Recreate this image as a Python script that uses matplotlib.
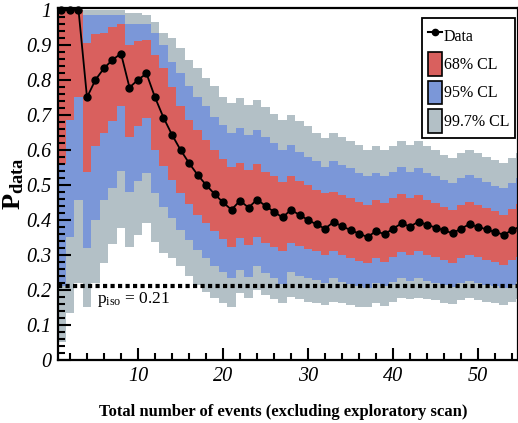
import numpy as np
import matplotlib
matplotlib.use("Agg")
import matplotlib.pyplot as plt
from matplotlib.lines import Line2D
from matplotlib.patches import Patch
from matplotlib.ticker import MultipleLocator, FuncFormatter

plt.rcParams['font.family'] = ['Liberation Serif', 'DejaVu Serif']
plt.rcParams['mathtext.fontset'] = 'custom'
plt.rcParams['mathtext.rm'] = 'Liberation Serif'
plt.rcParams['mathtext.it'] = 'Liberation Serif:italic'
plt.rcParams['mathtext.bf'] = 'Liberation Serif:bold'

# number of events
events = np.arange(1, 56)

# observed fraction
p_data = [1.0, 1.0, 1.0, 0.75, 0.8, 0.833, 0.857, 0.875, 0.778, 0.8,
          0.818, 0.75, 0.692, 0.643, 0.6, 0.5625, 0.529, 0.5, 0.474, 0.45,
          0.429, 0.455, 0.435, 0.458, 0.44, 0.423, 0.407, 0.429, 0.414, 0.4,
          0.387, 0.375, 0.394, 0.382, 0.371, 0.361, 0.351, 0.368, 0.359, 0.375,
          0.39, 0.381, 0.395, 0.386, 0.378, 0.37, 0.362, 0.375, 0.388, 0.38,
          0.373, 0.365, 0.358, 0.37, 0.382]

# 68% band
red_hi = [1.0, 1.0, 1.0, 0.905, 0.93, 0.935, 0.95, 0.96, 0.90, 0.91,
          0.915, 0.87, 0.835, 0.78, 0.726, 0.686, 0.657, 0.629, 0.60, 0.574,
          0.552, 0.562, 0.543, 0.56, 0.538, 0.524, 0.507, 0.524, 0.51, 0.50,
          0.486, 0.476, 0.481, 0.471, 0.462, 0.452, 0.443, 0.457, 0.448, 0.462,
          0.474, 0.462, 0.471, 0.457, 0.448, 0.438, 0.429, 0.443, 0.452, 0.443,
          0.433, 0.424, 0.414, 0.431, 0.446]
red_lo = [0.56, 0.686, 0.75, 0.537, 0.61, 0.648, 0.681, 0.725, 0.638, 0.667,
          0.69, 0.60, 0.555, 0.514, 0.476, 0.446, 0.414, 0.39, 0.367, 0.345,
          0.324, 0.348, 0.329, 0.352, 0.335, 0.322, 0.31, 0.335, 0.325, 0.316,
          0.31, 0.30, 0.31, 0.30, 0.29, 0.283, 0.276, 0.29, 0.281, 0.295,
          0.308, 0.30, 0.31, 0.30, 0.293, 0.286, 0.276, 0.29, 0.30, 0.293,
          0.286, 0.279, 0.271, 0.286, 0.295]

# 95% band
blue_hi = [1.0, 1.0, 1.0, 0.985, 0.985, 0.985, 0.985, 0.985, 0.96, 0.96,
           0.96, 0.933, 0.90, 0.852, 0.819, 0.783, 0.752, 0.724, 0.695, 0.671,
           0.648, 0.662, 0.643, 0.657, 0.638, 0.619, 0.60, 0.614, 0.595, 0.581,
           0.567, 0.552, 0.567, 0.557, 0.548, 0.533, 0.524, 0.533, 0.524, 0.538,
           0.55, 0.538, 0.548, 0.533, 0.524, 0.514, 0.505, 0.519, 0.529, 0.519,
           0.509, 0.497, 0.491, 0.505, 0.519]
blue_lo = [0.21, 0.35, 0.457, 0.32, 0.40, 0.457, 0.49, 0.54, 0.48, 0.51,
           0.533, 0.476, 0.438, 0.405, 0.371, 0.343, 0.314, 0.29, 0.267, 0.25,
           0.233, 0.257, 0.238, 0.267, 0.248, 0.233, 0.217, 0.25, 0.24, 0.235,
           0.229, 0.221, 0.233, 0.224, 0.217, 0.211, 0.205, 0.219, 0.211, 0.224,
           0.233, 0.226, 0.233, 0.226, 0.221, 0.214, 0.208, 0.219, 0.226, 0.221,
           0.214, 0.21, 0.205, 0.214, 0.224]

# 99.7% band
gray_hi = [1.0, 1.0, 1.0, 1.0, 1.0, 1.0, 1.0, 1.0, 0.99, 0.99,
           0.985, 0.966, 0.933, 0.919, 0.89, 0.857, 0.833, 0.805, 0.781, 0.752,
           0.733, 0.748, 0.729, 0.743, 0.722, 0.702, 0.684, 0.70, 0.681, 0.667,
           0.648, 0.633, 0.648, 0.638, 0.624, 0.614, 0.60, 0.61, 0.60, 0.61,
           0.624, 0.614, 0.624, 0.61, 0.60, 0.586, 0.576, 0.59, 0.60, 0.59,
           0.581, 0.57, 0.562, 0.576, 0.59]
gray_lo = [0.05, 0.135, 0.22, 0.152, 0.22, 0.276, 0.33, 0.377, 0.324, 0.357,
           0.39, 0.338, 0.305, 0.29, 0.267, 0.24, 0.214, 0.195, 0.176, 0.162,
           0.152, 0.19, 0.176, 0.2, 0.186, 0.173, 0.162, 0.181, 0.173, 0.167,
           0.162, 0.157, 0.167, 0.162, 0.157, 0.152, 0.15, 0.162, 0.154, 0.167,
           0.176, 0.173, 0.178, 0.173, 0.17, 0.164, 0.16, 0.17, 0.176, 0.171,
           0.167, 0.162, 0.157, 0.167, 0.173]

p_iso = 0.21

c_red = '#d9605e'
c_blue = '#7b97d8'
c_gray = '#b3c0c6'

fig = plt.figure(figsize=(5.18, 4.23), dpi=100)
ax = fig.add_axes([58/518, 1 - 360/423, 1 - 58/518, 352/423])

# bands drawn widest first
edges = np.append(events - 0.5, events[-1] + 0.5)
ax.stairs(gray_hi, edges, baseline=gray_lo, fill=True, color=c_gray, lw=0)
ax.stairs(blue_hi, edges, baseline=blue_lo, fill=True, color=c_blue, lw=0)
ax.stairs(red_hi, edges, baseline=red_lo, fill=True, color=c_red, lw=0)

ax.axhline(p_iso, color='black', lw=3, ls=(0, (1, 0.8)), zorder=3)
ax.text(5.2, 0.2, r'p$_{\mathregular{iso}}$ = 0.21', fontsize=12.5,
        va='top', ha='left')

ax.plot(events, p_data, '-o', color='black', lw=1.3, ms=5, zorder=4,
        clip_on=False)

ax.set_xlim(0.59, 54.7)
ax.set_ylim(0, 1.005)

ax.xaxis.set_major_locator(MultipleLocator(10))
ax.xaxis.set_minor_locator(MultipleLocator(2))
ax.yaxis.set_major_locator(MultipleLocator(0.1))
ax.yaxis.set_minor_locator(MultipleLocator(0.02))
ax.yaxis.set_major_formatter(FuncFormatter(lambda v, p: '%g' % round(v, 2)))
ax.tick_params(which='both', direction='in', top=False, right=False,
               width=1.5, labelsize=14.5)
ax.tick_params(which='major', length=9, pad=5)
ax.tick_params(which='minor', length=5)
for lab in ax.get_xticklabels() + ax.get_yticklabels():
    lab.set_fontstyle('italic')

for s in ax.spines.values():
    s.set_linewidth(1.6)

ax.set_xlabel('Total number of events (excluding exploratory scan)',
              fontsize=12, fontweight='bold')
ax.xaxis.set_label_coords(0.49, -0.125)
ax.set_ylabel(r'$\mathbf{P}_{\mathbf{data}}$', fontsize=19)
ax.yaxis.set_label_coords(-0.07, 0.5)

handles = [Line2D([], [], color='black', marker='o', ms=4.5, lw=1.5),
           Patch(facecolor=c_red, edgecolor='black', lw=1.2),
           Patch(facecolor=c_blue, edgecolor='black', lw=1.2),
           Patch(facecolor=c_gray, edgecolor='black', lw=1.2)]
leg = ax.legend(handles, ['Data', '68% CL', '95% CL', '99.7% CL'],
                loc='upper right', bbox_to_anchor=(1.004, 0.985),
                fontsize=11.5, handlelength=0.85, handleheight=1.9,
                handletextpad=0.15, labelspacing=0.3, borderpad=0.35,
                borderaxespad=0.3, fancybox=False, edgecolor='black',
                framealpha=1)
leg.get_frame().set_linewidth(1.3)

fig.savefig('out.png', dpi=100)
